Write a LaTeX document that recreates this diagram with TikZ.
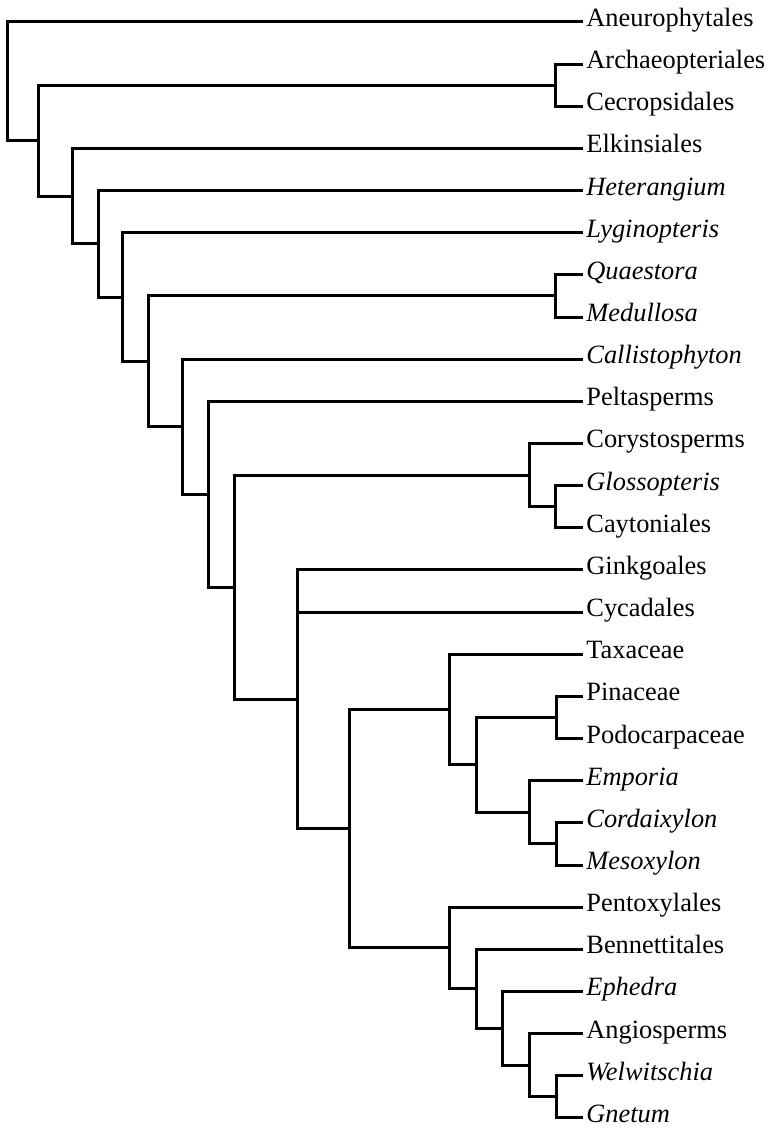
\documentclass[tikz,border=0pt]{standalone}
\usepackage{fontspec}
\setmainfont{Liberation Serif}

\tikzset{
  branch/.style={line width=1.5pt},
  taxon/.style={anchor=west,inner xsep=1.5pt,inner ysep=0pt,
    text height=8pt,text depth=3.5pt,font=\fontsize{13.2}{15}\selectfont},
}

\begin{document}
\begin{tikzpicture}[x=0.5pt,y=-21.075pt]
  \useasboundingbox (0,-0.522) rectangle (768,26.311);

  % taxa, one row each, top to bottom
  \foreach \name/\txt [count=\k from 0] in {
      aneu/Aneurophytales, archaeo/Archaeopteriales, cecrop/Cecropsidales,
      elkin/Elkinsiales, heter/\textit{Heterangium}, lygin/\textit{Lyginopteris},
      quaest/\textit{Quaestora}, medull/\textit{Medullosa}, callist/\textit{Callistophyton},
      peltas/Peltasperms, coryst/Corystosperms, glosso/\textit{Glossopteris},
      cayton/Caytoniales, ginkgo/Ginkgoales, cycad/Cycadales, taxac/Taxaceae,
      pinac/Pinaceae, podoc/Podocarpaceae, empor/\textit{Emporia},
      cordai/\textit{Cordaixylon}, mesox/\textit{Mesoxylon}, pentox/Pentoxylales,
      bennett/Bennettitales, ephed/\textit{Ephedra}, angio/Angiosperms,
      welw/\textit{Welwitschia}, gnet/\textit{Gnetum}}
    \node[taxon] (\name) at (583,\k) {\txt};

  % internal nodes (x in px, y in rows)
  \coordinate (root) at (7,1.4079);
  \coordinate (nA) at (38,2.8157);
  \coordinate (nAC) at (555,1.5);
  \coordinate (nB) at (72,4.1314);
  \coordinate (nC) at (98,5.2628);
  \coordinate (nD) at (122,6.5256);
  \coordinate (nE) at (148,8.0513);
  \coordinate (nQM) at (555,6.5);
  \coordinate (nF) at (182,9.6025);
  \coordinate (nG) at (208,11.2051);
  \coordinate (nH) at (234,13.4102);
  \coordinate (nCory) at (529,10.75);
  \coordinate (nGC) at (555,11.5);
  \coordinate (nI) at (297,16.0703);
  \coordinate (nJ) at (349,19.1406);
  \coordinate (nK) at (449,16.3125);
  \coordinate (nM) at (476,17.625);
  \coordinate (nPP) at (556,16.5);
  \coordinate (nN) at (529,18.75);
  \coordinate (nCM) at (556,19.5);
  \coordinate (nL) at (449,21.9688);
  \coordinate (nO) at (476,22.9375);
  \coordinate (nP) at (502,23.875);
  \coordinate (nQ) at (529,24.75);
  \coordinate (nWG) at (556,25.5);

  % branches
  \foreach \p/\c in {root/aneu.west, root/nA, nA/nAC, nA/nB,
      nAC/archaeo.west, nAC/cecrop.west, nB/elkin.west, nB/nC,
      nC/heter.west, nC/nD, nD/lygin.west, nD/nE, nE/nQM, nE/nF,
      nQM/quaest.west, nQM/medull.west, nF/callist.west, nF/nG,
      nG/peltas.west, nG/nH, nH/nCory, nH/nI,
      nCory/coryst.west, nCory/nGC, nGC/glosso.west, nGC/cayton.west,
      nI/ginkgo.west, nI/cycad.west, nI/nJ, nJ/nK, nJ/nL,
      nK/taxac.west, nK/nM, nM/nPP, nM/nN,
      nPP/pinac.west, nPP/podoc.west, nN/empor.west, nN/nCM,
      nCM/cordai.west, nCM/mesox.west, nL/pentox.west, nL/nO,
      nO/bennett.west, nO/nP, nP/ephed.west, nP/nQ,
      nQ/angio.west, nQ/nWG, nWG/welw.west, nWG/gnet.west}
    \draw[branch] (\p) |- (\c);
\end{tikzpicture}
\end{document}
